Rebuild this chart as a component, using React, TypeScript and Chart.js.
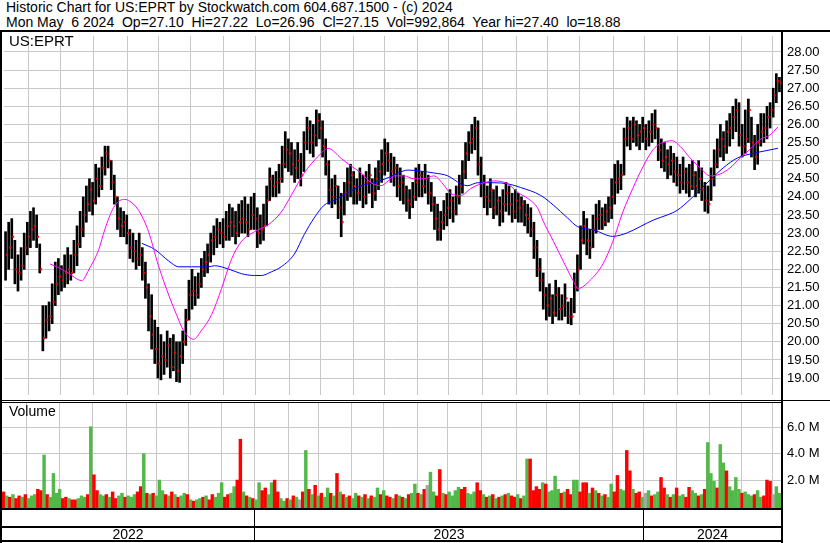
import React, { useEffect, useRef } from 'react';
import { Chart, registerables } from 'chart.js';
Chart.register(...registerables);

const FONT = '"Liberation Sans", Arial, sans-serif';

const titleLine1 = 'Historic Chart for US:EPRT by Stockwatch.com 604.687.1500 - (c) 2024';
const titleLine2 = 'Mon May  6 2024  Op=27.10  Hi=27.22  Lo=26.96  Cl=27.15  Vol=992,864  Year hi=27.40  lo=18.88';
const symbol = 'US:EPRT';
const years = ['2022', '2023', '2024'];

// Each bar = about two trading days, May 2022 – May 2024
const highs = [
  23.04, 23.3, 23.4, 22.8, 22.4, 22.6, 23.0, 23.3, 23.6, 23.7,
  23.5, 22.7, 21.0, 21.0, 21.1, 21.6, 22.2, 22.3, 22.1, 22.4,
  22.6, 22.4, 22.8, 23.2, 23.6, 24.0, 24.3, 24.5, 24.4, 24.9,
  24.8, 25.1, 25.4, 25.4, 25.0, 24.6, 24.0, 23.7, 23.6, 23.5,
  23.1, 23.0, 22.8, 23.0, 22.6, 22.2, 21.6, 21.3, 20.6, 20.4,
  20.2, 20.0, 20.3, 20.1, 20.2, 20.0, 20.0, 20.3, 20.9, 21.7,
  22.0, 21.8, 21.9, 22.3, 22.5, 22.7, 23.0, 23.2, 23.4, 23.3,
  23.4, 23.6, 23.8, 23.7, 23.6, 23.8, 23.9, 24.0, 23.8, 24.0,
  24.1, 23.7, 23.5, 23.8, 24.3, 24.8, 24.6, 24.7, 24.9, 25.4,
  25.8, 25.6, 25.5, 25.3, 25.5, 25.2, 25.8, 26.2, 26.1, 26.0,
  26.4, 26.3, 26.1, 25.6, 25.0, 24.5, 24.6, 24.3, 24.1, 24.4,
  24.8, 24.9, 24.7, 24.5, 24.8, 24.6, 24.7, 24.9, 24.5, 24.8,
  25.0, 25.3, 25.6, 25.5, 25.2, 25.1, 24.9, 24.8, 24.6, 24.3,
  24.2, 24.4, 24.8, 24.9, 24.7, 24.9, 24.6, 24.4, 24.0, 23.8,
  23.6, 23.9, 24.1, 24.2, 24.0, 24.3, 24.6, 25.0, 25.5, 25.8,
  26.0, 26.2, 26.1, 25.1, 24.6, 24.3, 24.5, 24.2, 24.3, 24.0,
  24.2, 24.4, 24.3, 24.1, 24.2, 24.1, 24.0, 23.9, 23.8, 23.7,
  23.3, 22.8, 22.3, 21.9, 21.5, 21.6, 21.3, 21.7, 21.5, 21.3,
  21.6, 21.1, 21.2, 21.9, 22.4, 23.2, 23.6, 23.4, 23.1, 23.5,
  23.8, 23.9, 23.7, 23.8, 24.0, 24.5, 24.9, 25.0, 24.9, 25.9,
  26.2, 26.1, 26.2, 26.1, 26.0, 26.2, 26.0, 26.1, 26.3, 26.4,
  25.9, 25.6, 25.5, 25.3, 25.4, 25.2, 25.1, 24.9, 25.1, 24.8,
  24.9, 25.0, 24.7, 25.0, 24.8, 24.4, 24.3, 24.8, 25.3, 25.6,
  26.0, 25.8, 26.1, 26.3, 26.5, 26.7, 26.6, 26.0, 26.4, 26.7,
  26.2, 25.7, 26.0, 26.3, 26.3, 26.5, 26.6, 27.0, 27.4, 27.3,
];
const lows = [
  21.7, 22.0, 22.3, 21.6, 21.4, 21.7, 22.0, 22.4, 22.6, 22.8,
  22.6, 21.9, 19.75, 20.1, 20.3, 20.5, 21.0, 21.3, 21.4, 21.5,
  21.6, 21.7, 21.9, 22.1, 22.6, 22.9, 23.3, 23.6, 23.5, 23.8,
  24.0, 24.2, 24.6, 24.8, 24.2, 23.8, 23.1, 22.9, 22.9, 22.7,
  22.3, 22.2, 22.0, 22.1, 21.7, 21.2, 20.3, 19.8, 19.4, 19.0,
  18.95, 19.1, 19.3, 19.0, 19.2, 18.9, 18.88, 19.4, 19.9, 20.6,
  20.9, 21.0, 21.2, 21.5, 21.8, 21.9, 22.2, 22.4, 22.6, 22.7,
  22.6, 22.8, 22.8, 22.9, 22.7, 22.9, 23.0, 23.0, 22.9, 23.1,
  23.1, 22.6, 22.7, 22.8, 23.2, 23.9, 24.0, 24.0, 24.1, 24.4,
  24.8, 24.7, 24.6, 24.4, 24.5, 24.3, 24.7, 25.3, 25.2, 25.1,
  25.4, 25.6, 25.1, 24.6, 23.8, 23.7, 23.8, 23.4, 22.9, 23.5,
  23.9, 24.0, 23.8, 23.8, 23.9, 23.7, 23.8, 24.1, 23.7, 23.9,
  24.2, 24.4, 24.6, 24.7, 24.4, 24.3, 24.0, 23.9, 23.8, 23.6,
  23.4, 23.7, 23.9, 24.0, 24.0, 24.1, 23.8, 23.6, 23.1, 22.8,
  22.8, 23.1, 23.2, 23.4, 23.3, 23.5, 23.8, 24.1, 24.5, 25.0,
  25.2, 25.3, 24.6, 24.0, 23.7, 23.5, 23.7, 23.4, 23.5, 23.2,
  23.3, 23.6, 23.5, 23.3, 23.4, 23.3, 23.3, 23.2, 23.0, 22.9,
  22.3, 21.8, 21.4, 20.9, 20.6, 20.7, 20.5, 20.7, 20.6, 20.6,
  20.7, 20.5, 20.47, 20.8, 21.4, 22.0, 22.7, 22.4, 22.3, 22.6,
  23.0, 23.1, 23.1, 23.2, 23.3, 23.4, 23.8, 24.1, 24.2, 24.6,
  25.4, 25.3, 25.5, 25.4, 25.3, 25.5, 25.3, 25.4, 25.5, 25.6,
  25.0, 24.8, 24.7, 24.5, 24.6, 24.4, 24.3, 24.1, 24.2, 24.1,
  24.0, 24.2, 24.0, 24.1, 23.9, 23.6, 23.55, 23.9, 24.3, 24.8,
  25.1, 25.0, 25.2, 25.4, 25.6, 25.8, 25.4, 25.1, 25.2, 25.5,
  25.1, 24.75, 24.9, 25.4, 25.5, 25.6, 25.9, 26.2, 26.6, 26.9,
];
const closes = [
  22.4, 22.6, 22.9, 22.0, 21.9, 22.1, 22.6, 22.9, 23.1, 23.2,
  22.9, 22.0, 20.1, 20.6, 20.7, 21.1, 21.6, 21.8, 21.7, 21.9,
  22.0, 21.9, 22.4, 22.7, 23.1, 23.5, 23.8, 24.2, 23.9, 24.5,
  24.3, 24.8, 25.2, 25.0, 24.4, 24.0, 23.4, 23.2, 23.3, 23.0,
  22.6, 22.5, 22.3, 22.4, 21.9, 21.5, 20.7, 20.2, 19.8, 19.4,
  19.6, 19.5, 19.9, 19.3, 19.7, 19.2, 19.6, 20.0, 20.6, 21.3,
  21.4, 21.3, 21.6, 22.0, 22.2, 22.4, 22.8, 22.9, 23.1, 23.0,
  22.9, 23.2, 23.3, 23.2, 23.0, 23.3, 23.4, 23.3, 23.1, 23.5,
  23.4, 23.0, 23.1, 23.2, 23.9, 24.5, 24.3, 24.4, 24.5, 24.9,
  25.3, 25.2, 24.9, 24.8, 25.0, 24.6, 25.5, 25.9, 25.5, 25.7,
  26.1, 25.9, 25.4, 24.9, 24.2, 24.0, 24.3, 23.7, 23.3, 24.1,
  24.4, 24.6, 24.3, 24.1, 24.3, 24.0, 24.4, 24.6, 24.1, 24.5,
  24.7, 24.9, 25.2, 25.0, 24.7, 24.8, 24.3, 24.4, 24.2, 23.9,
  23.8, 24.0, 24.4, 24.6, 24.3, 24.5, 24.1, 23.8, 23.4, 23.1,
  23.3, 23.5, 23.7, 23.9, 23.6, 24.0, 24.3, 24.7, 25.2, 25.5,
  25.6, 25.9, 24.9, 24.4, 24.0, 23.9, 24.2, 23.7, 23.9, 23.6,
  23.8, 24.1, 23.8, 23.6, 23.9, 23.7, 23.8, 23.5, 23.4, 23.1,
  22.6, 22.0, 21.7, 21.3, 21.0, 21.2, 20.8, 21.3, 20.9, 21.0,
  21.2, 20.7, 20.7, 21.5, 22.0, 22.8, 23.2, 22.8, 22.6, 23.1,
  23.4, 23.5, 23.3, 23.6, 23.7, 24.0, 24.4, 24.5, 24.6, 25.6,
  25.9, 25.6, 26.0, 25.7, 25.8, 25.9, 25.6, 25.8, 26.0, 25.9,
  25.3, 25.0, 25.1, 24.9, 25.0, 24.7, 24.6, 24.4, 24.7, 24.4,
  24.3, 24.6, 24.3, 24.5, 24.2, 23.9, 23.8, 24.5, 24.9, 25.3,
  25.6, 25.4, 25.8, 25.9, 26.2, 26.4, 25.7, 25.4, 25.6, 26.4,
  25.5, 25.1, 25.5, 25.8, 25.9, 26.2, 26.4, 26.8, 27.2, 27.15,
];

// Moving averages, read at points along the bar index axis
const maShortIdx = [14.3, 16.5, 20.0, 24.5, 26.8, 30.0, 31.9, 34.8, 38.0, 39.6, 42.8, 46.0, 49.2, 52.5, 55.0, 57.3, 60.5, 63.0, 66.3, 69.5, 72.7, 75.9, 80.1, 84.5, 88.7, 91.9, 96.1, 100.6, 103.8, 108.0, 111.2, 114.4, 117.6, 120.8, 123.1, 125.0, 128.2, 131.4, 134.6, 137.8, 140.7, 143.3, 146.5, 149.7, 152.9, 157.1, 161.6, 164.8, 168.0, 171.2, 173.1, 176.3, 179.4, 182.6, 184.2, 188.0, 192.2, 195.4, 198.6, 201.8, 205.2, 208.4, 210.7, 214.5, 217.1, 220.3, 223.5, 226.7, 229.9, 233.1, 236.3, 239.5, 242.7, 246.0, 248.5];
const maShortVal = [22.15, 22.07, 21.91, 21.69, 21.99, 22.55, 23.09, 23.71, 23.93, 23.90, 23.63, 23.04, 22.10, 21.29, 20.75, 20.31, 20.07, 20.31, 20.75, 21.47, 22.28, 22.77, 23.04, 23.23, 23.58, 24.04, 24.66, 25.12, 25.34, 25.06, 24.85, 24.66, 24.39, 24.31, 24.44, 24.58, 24.58, 24.50, 24.50, 24.58, 24.36, 24.09, 24.04, 24.23, 24.36, 24.44, 24.36, 24.12, 23.96, 23.69, 23.31, 22.77, 22.23, 21.69, 21.47, 21.69, 22.15, 22.77, 23.58, 24.23, 24.85, 25.31, 25.47, 25.55, 25.39, 25.07, 24.80, 24.58, 24.63, 24.80, 25.07, 25.31, 25.58, 25.71, 25.93];
const maLongIdx = [43.8, 48.0, 52.5, 55.7, 59.8, 65.3, 67.2, 71.7, 75.9, 80.1, 82.3, 85.5, 88.7, 92.9, 96.1, 99.3, 102.5, 105.7, 110.2, 114.4, 118.6, 123.1, 126.3, 129.5, 133.6, 137.8, 142.3, 146.5, 148.7, 151.9, 157.1, 161.6, 165.7, 172.2, 176.3, 180.8, 184.0, 189.2, 195.4, 200.1, 204.2, 208.4, 212.9, 216.1, 220.3, 223.5, 226.7, 230.9, 235.4, 240.5, 245.0, 248.5];
const maLongVal = [22.72, 22.55, 22.23, 22.07, 22.07, 22.07, 22.10, 22.01, 21.88, 21.83, 21.83, 21.93, 22.07, 22.42, 22.96, 23.42, 23.77, 23.90, 24.12, 24.31, 24.39, 24.53, 24.66, 24.74, 24.71, 24.66, 24.58, 24.36, 24.31, 24.39, 24.39, 24.36, 24.26, 24.04, 23.77, 23.42, 23.18, 23.09, 22.91, 23.01, 23.18, 23.36, 23.50, 23.63, 23.93, 24.20, 24.47, 24.80, 25.07, 25.20, 25.28, 25.34];

// Volume in millions, one per bar; direction code r=down g=up n=unchanged
const volumes = [
  1.1, 0.8, 0.7, 0.9, 0.6, 0.8, 0.7, 0.9, 0.6, 0.8,
  0.9, 1.3, 1.2, 3.9, 0.9, 0.7, 2.5, 1.0, 1.3, 0.6,
  0.7, 0.6, 0.5, 0.5, 0.6, 0.8, 0.7, 0.9, 6.05, 2.4,
  1.2, 0.9, 0.8, 0.9, 0.7, 1.1, 0.6, 0.8, 1.0, 0.7,
  0.8, 0.7, 0.9, 1.1, 1.5, 4.0, 1.0, 0.9, 1.0, 0.8,
  2.0, 1.2, 0.9, 0.8, 1.1, 0.9, 0.7, 0.8, 1.0, 0.9,
  0.5, 0.4, 0.5, 0.6, 0.7, 0.8, 0.5, 0.9, 0.7, 1.0,
  1.8, 0.7, 0.9, 1.0, 1.5, 2.0, 5.1, 1.1, 0.8, 0.7,
  0.6, 0.5, 1.8, 1.2, 1.4, 0.9, 1.8, 2.0, 1.1, 0.6,
  0.4, 0.6, 0.5, 0.8, 0.7, 0.5, 1.1, 4.25, 1.3, 0.9,
  1.6, 0.8, 1.0, 0.7, 1.4, 1.0, 0.8, 2.5, 1.1, 0.9,
  0.7, 0.8, 0.6, 1.0, 0.8, 0.7, 0.9, 0.6, 0.8, 0.7,
  1.4, 0.9, 1.2, 0.8, 0.7, 0.6, 0.9, 0.8, 0.7, 0.6,
  0.9, 1.0, 1.7, 1.0, 0.9, 1.3, 1.6, 2.6, 1.1, 0.8,
  2.8, 1.0, 0.9, 1.1, 0.8, 1.2, 1.45, 1.3, 1.45, 1.0,
  0.9, 1.1, 1.8, 1.2, 0.9, 0.7, 0.8, 0.9, 0.6, 0.7,
  0.8, 0.9, 1.0, 0.8, 0.7, 0.9, 0.6, 0.8, 3.6, 3.6,
  1.2, 1.5, 1.3, 1.8, 1.7, 1.1, 1.2, 2.3, 1.3, 1.0,
  1.1, 1.3, 0.9, 2.0, 2.0, 1.1, 1.8, 1.8, 1.0, 1.4,
  1.2, 1.0, 0.8, 0.9, 0.7, 1.7, 1.1, 2.35, 1.3, 1.2,
  4.25, 2.7, 1.3, 1.0, 1.1, 0.7, 1.0, 1.2, 0.8, 0.9,
  1.1, 2.2, 1.4, 0.9, 0.7, 0.9, 1.4, 0.8, 0.9, 0.7,
  1.45, 1.2, 1.0, 0.8, 0.9, 1.3, 4.85, 2.5, 1.9, 1.4,
  4.7, 3.3, 2.7, 1.5, 1.2, 2.2, 1.3, 1.0, 1.1, 0.9,
  0.8, 0.9, 1.2, 0.7, 0.8, 2.0, 1.9, 0.9, 1.5, 0.99,
];
const volumeDirs =
  'rgrgrrgrgg' + 'grrgrggggr' + 'rgrrgggrgr' + 'rggrgrrggr' + 'gggrrgrgrg' +
  'ggrgrgrggr' + 'grggrgrrgg' + 'grrggrrgrg' + 'rggrrggrrg' + 'grgrgnrgrg' +
  'rgrggrgrgr' + 'grggrgrgrg' + 'grgrrgrgrg' + 'rggrgrnggr' + 'rgrggggrrg' +
  'ggrrgrgrgr' + 'grgrrgrggr' + 'rrrgrggggr' + 'grrggrrrgr' + 'grgrggrrgg' +
  'rrgrrgngrg' + 'grrgrgrggr' + 'rggrgrgggr' + 'ggrggggrgg' + 'grggrrrngg';

// Axis ticks
const priceTicks = [19, 19.5, 20, 20.5, 21, 21.5, 22, 22.5, 23, 23.5, 24, 24.5, 25, 25.5, 26, 26.5, 27, 27.5, 28];
const volumeTicks = [2, 4, 6];
// Month boundaries (Jun 2022 … May 2024), in bar-index units
const monthTicks = [7.5, 17.8, 28.4, 39.3, 49.2, 59.5, 70.1, 80.4, 91.3, 101.2, 111.8, 121.8, 132.7, 142.6, 153.5, 164.5, 174.4, 184.8, 195.5, 205.5, 216.1, 226.4, 236.7, 246.9];

const PRICE_MIN = 18.532;
const PRICE_MAX = 28.44;
const VOL_MIN = -0.12;
const VOL_MAX = 7.85;

const GRID = '#c8c8c8';
const DIR_COLORS: Record<string, string> = { r: '#ff0000', g: '#52b848', n: '#a8a8a8' };

function xScale() {
  return {
    type: 'linear' as const,
    min: -0.5,
    max: highs.length - 0.5,
    offset: false,
    grid: { color: GRID, lineWidth: 1, drawTicks: false, offset: false },
    border: { display: false },
    ticks: { display: false },
    afterBuildTicks: (s: any) => { s.ticks = monthTicks.map((v) => ({ value: v })); },
    afterFit: (s: any) => { s.height = 0; s.paddingLeft = 0; s.paddingRight = 0; },
  };
}

function yScale(min: number, max: number, ticks: number[], fmt: (v: number) => string) {
  return {
    position: 'right' as const,
    min,
    max,
    grid: { color: GRID, lineWidth: 1, drawTicks: false },
    border: { display: false },
    ticks: {
      padding: 6,
      color: '#000',
      font: { family: FONT, size: 13 },
      callback: (v: any) => fmt(Number(v)),
    },
    afterBuildTicks: (s: any) => { s.ticks = ticks.map((v) => ({ value: v })); },
    afterFit: (s: any) => { s.width = 49; s.paddingTop = 0; s.paddingBottom = 0; },
  };
}

export default function App() {
  const priceRef = useRef<HTMLCanvasElement>(null);
  const volRef = useRef<HTMLCanvasElement>(null);

  useEffect(() => {
    const common = {
      responsive: false,
      animation: false as const,
      devicePixelRatio: 1,
      events: [] as any[],
      layout: { padding: { left: 2, right: 0, top: 0, bottom: 0 } },
      plugins: { legend: { display: false }, tooltip: { enabled: false } },
    };

    const priceChart = new Chart(priceRef.current!, {
      type: 'bar',
      data: {
        datasets: [
          {
            type: 'line',
            data: maLongIdx.map((x, i) => ({ x, y: maLongVal[i] })),
            borderColor: '#0000ff',
            borderWidth: 1,
            pointRadius: 0,
            cubicInterpolationMode: 'monotone',
            order: 1,
          } as any,
          {
            type: 'line',
            data: maShortIdx.map((x, i) => ({ x, y: maShortVal[i] })),
            borderColor: '#ff00ff',
            borderWidth: 1,
            pointRadius: 0,
            cubicInterpolationMode: 'monotone',
            order: 0,
          } as any,
          {
            type: 'scatter',
            data: closes.map((c, i) => ({ x: i + 0.45, y: c })),
            pointStyle: 'rect',
            pointRadius: 1.45,
            pointBorderWidth: 0,
            backgroundColor: '#ff0000',
            borderColor: '#ff0000',
            order: 2,
          } as any,
          {
            type: 'bar',
            data: highs.map((h, i) => ({ x: i, y: [lows[i], h] })),
            backgroundColor: '#000000',
            barThickness: 2,
            order: 3,
          } as any,
        ],
      },
      options: {
        ...common,
        scales: {
          x: xScale(),
          y: yScale(PRICE_MIN, PRICE_MAX, priceTicks, (v) => v.toFixed(2)),
        },
      } as any,
    });

    const volChart = new Chart(volRef.current!, {
      type: 'bar',
      data: {
        datasets: [
          {
            data: volumes.map((v, i) => ({ x: i, y: v })),
            backgroundColor: volumes.map((_, i) => DIR_COLORS[volumeDirs[i]] || DIR_COLORS.g),
            barThickness: 2.8,
            base: VOL_MIN,
          } as any,
        ],
      },
      options: {
        ...common,
        scales: {
          x: xScale(),
          y: yScale(VOL_MIN, VOL_MAX, volumeTicks, (v) => `${v.toFixed(1)} M`),
        },
      } as any,
    });

    return () => {
      priceChart.destroy();
      volChart.destroy();
    };
  }, []);

  const line = (left: number, top: number, width: number, height: number) => (
    <div style={{ position: 'absolute', left, top, width, height, background: '#000' }} />
  );
  const text = (content: string, left: number, top: number, extra: React.CSSProperties = {}) => (
    <div style={{ position: 'absolute', left, top, lineHeight: '15px', whiteSpace: 'pre', ...extra }}>{content}</div>
  );

  return (
    <div
      style={{
        position: 'absolute', left: 0, top: 0, width: 830, height: 543, overflow: 'hidden',
        background: '#fff', fontFamily: FONT, fontSize: 13, color: '#000',
      }}
    >
      {text(titleLine1, 6, 0, { fontSize: 14 })}
      {text(titleLine2, 6, 15, { fontSize: 14 })}
      <canvas ref={priceRef} width={830} height={367} style={{ position: 'absolute', left: 0, top: 32, width: 830, height: 367 }} />
      <canvas ref={volRef} width={830} height={105} style={{ position: 'absolute', left: 0, top: 403, width: 830, height: 105 }} />
      {text(symbol, 9, 32, { fontSize: 15, lineHeight: '17px' })}
      {text('Volume', 9, 404, { fontSize: 14 })}
      {line(0, 30, 830, 2)}
      {line(0, 30, 2, 513)}
      {line(781, 30, 2, 513)}
      {line(0, 400, 830, 1)}
      {line(0, 402, 783, 1)}
      {line(0, 508, 783, 2)}
      {line(0, 526, 783, 2)}
      {line(0, 540, 783, 2)}
      {line(254, 510, 1, 30)}
      {line(643, 510, 1, 30)}
      {text(years[0], 2, 527, { width: 252, textAlign: 'center', fontSize: 14 })}
      {text(years[1], 255, 527, { width: 388, textAlign: 'center', fontSize: 14 })}
      {text(years[2], 644, 527, { width: 137, textAlign: 'center', fontSize: 14 })}
    </div>
  );
}
